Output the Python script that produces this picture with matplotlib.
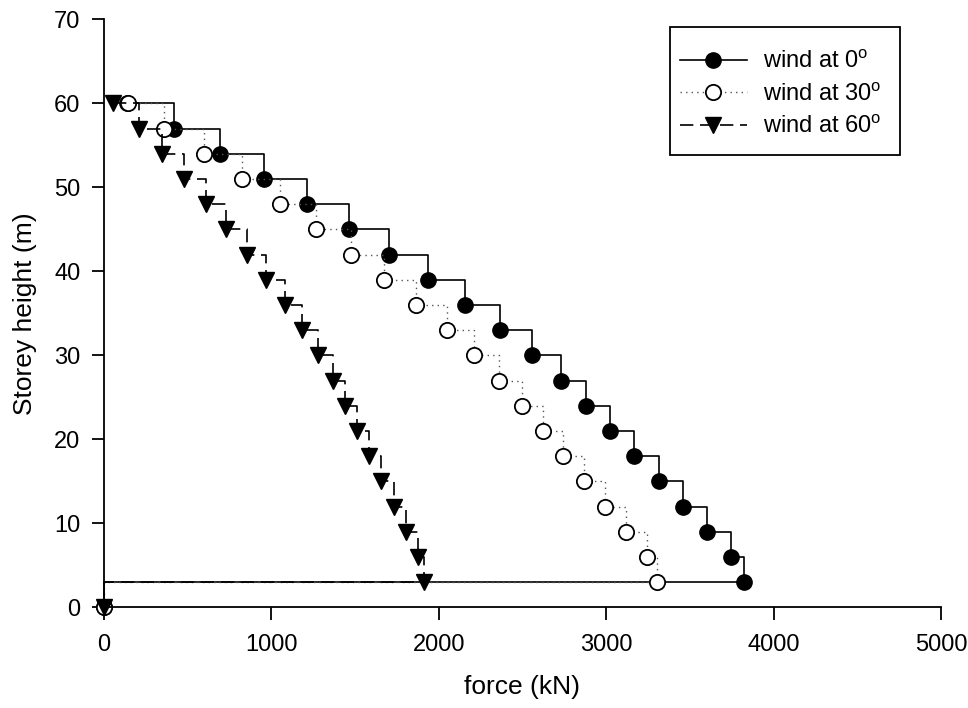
import matplotlib
matplotlib.use("Agg")
import matplotlib.pyplot as plt
from matplotlib.patches import Rectangle
import numpy as np

# storey levels (m), last point is the ground
heights = [60, 57, 54, 51, 48, 45, 42, 39, 36, 33, 30, 27, 24, 21, 18, 15, 12, 9, 6, 3, 0]

force_0 = [135, 420, 693, 956, 1213, 1464, 1703, 1936, 2155, 2364, 2557, 2728,
           2882, 3023, 3168, 3314, 3459, 3602, 3748, 3822, 0]
force_30 = [143, 358, 596, 827, 1050, 1265, 1474, 1671, 1866, 2047, 2213, 2360,
            2495, 2623, 2742, 2868, 2995, 3121, 3244, 3306, 0]
force_60 = [52, 209, 347, 478, 608, 731, 854, 970, 1081, 1185, 1281, 1366,
            1442, 1514, 1585, 1657, 1731, 1802, 1876, 1910, 0]

labels = ["wind at 0$^\\mathregular{o}$", "wind at 30$^\\mathregular{o}$", "wind at 60$^\\mathregular{o}$"]

W, H = 968, 708


def main() -> None:
    plt.rcParams["font.family"] = ["Liberation Sans", "DejaVu Sans"]

    fig = plt.figure(figsize=(W / 100, H / 100), dpi=100)
    ax = fig.add_axes([0.1074, 0.1422, 0.8646, 0.8305])

    ax.plot(force_0, heights, drawstyle="steps-post", color="black", lw=1.2,
            marker="o", ms=11, mfc="black", mec="black", label=labels[0], clip_on=False)
    ax.plot(force_30, heights, drawstyle="steps-post", color="#555555", lw=1.0,
            linestyle=(0, (1, 3)), marker="o", ms=11, mfc="white", mec="black",
            mew=1.3, label=labels[1], clip_on=False)
    ax.plot(force_60, heights, drawstyle="steps-post", color="black", lw=1.2,
            linestyle=(0, (8, 4)), marker="v", ms=12, mfc="black", mec="black",
            label=labels[2], clip_on=False)

    ax.set_xlim(0, 5000)
    ax.set_ylim(0, 70)
    ax.set_xticks(np.arange(0, 5001, 1000))
    ax.set_yticks(np.arange(0, 71, 10))
    ax.spines["top"].set_visible(False)
    ax.spines["right"].set_visible(False)
    for s in ("left", "bottom"):
        ax.spines[s].set_linewidth(1.3)
    ax.tick_params(direction="out", length=9, width=1.3, labelsize=17)
    ax.tick_params(axis="x", pad=10)
    ax.tick_params(axis="y", pad=8)

    ax.set_xlabel("force (kN)", fontsize=19, labelpad=14)
    ax.set_ylabel("Storey height (m)", fontsize=19, labelpad=12)

    # legend content without frame, frame drawn separately
    ax.legend(loc="center", bbox_to_anchor=(781 / W, 1 - 94.2 / H),
              bbox_transform=fig.transFigure, fontsize=17, frameon=False,
              handlelength=2.8, handletextpad=0.7, borderpad=0,
              labelspacing=0.4, borderaxespad=0)
    fig.patches.append(Rectangle((670 / W, 1 - 155 / H), 230 / W, 128 / H,
                                 transform=fig.transFigure, fill=False,
                                 edgecolor="black", lw=1.3, zorder=5))

    fig.savefig("out.png", dpi=100)
    plt.close(fig)


if __name__ == "__main__":
    main()
